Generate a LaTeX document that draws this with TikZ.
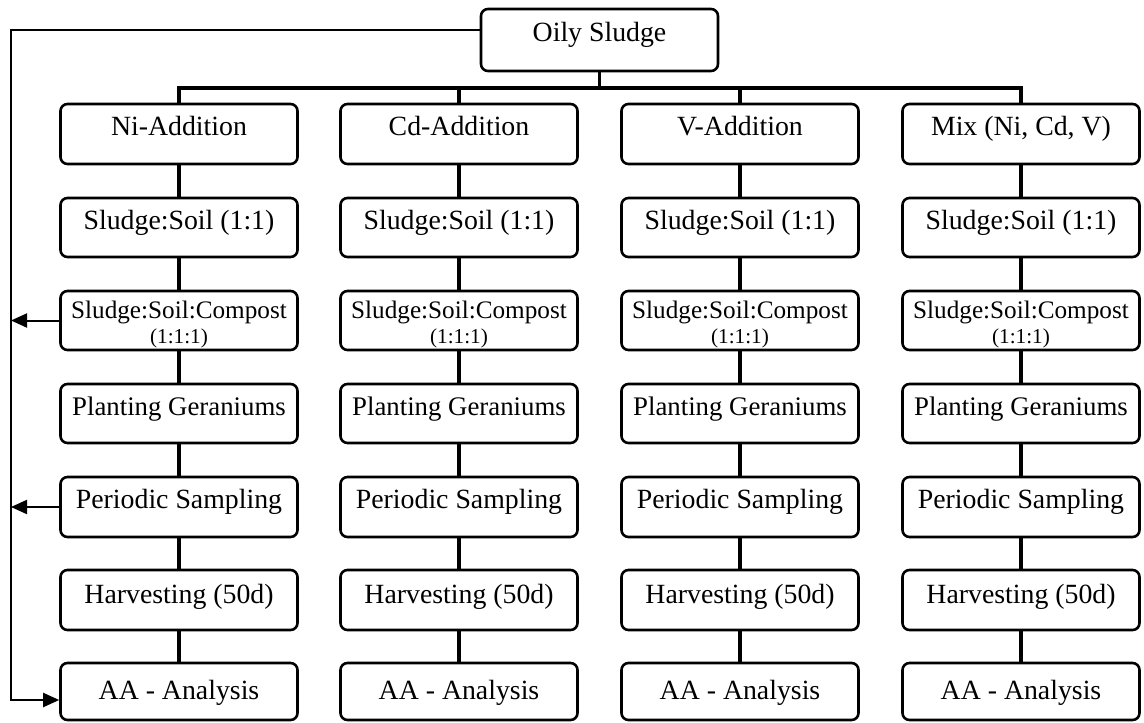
\documentclass[tikz,border=0pt]{standalone}
\usepackage{fontspec}
\setmainfont{Liberation Serif}
\usetikzlibrary{arrows.meta}
\begin{document}
\begin{tikzpicture}[x=0.5pt,y=-0.5pt,
  box/.style={draw, line width=1.3pt, rounded corners=3.5pt, minimum width=118.5pt,
    minimum height=29.5pt, inner sep=0pt, font=\fontsize{13.9}{16}\selectfont,
    text height=9pt, text depth=7.5pt},
  comp/.style={font=\fontsize{12.6}{14}\selectfont, text height=8pt, text depth=10.5pt},
  ratio/.style={inner sep=0pt, font=\fontsize{10.6}{12}\selectfont, anchor=base},
  stem/.style={line width=2.2pt},
  bus/.style={line width=1.8pt, line join=miter},
  fb/.style={line width=1pt},
  arr/.style={-{Triangle[length=8pt,width=7pt]}}]
\useasboundingbox (0,0) rectangle (1144,722);
\node[box, minimum width=118.5pt, minimum height=31pt] (OS) at (599.5,40) {Oily Sludge};
\coordinate (busy) at (0,88);
\coordinate (tl) at (11,30);
\coordinate (bl) at (11,700);
\foreach \i/\x/\t in {1/179/Ni-Addition, 2/459/Cd-Addition, 3/740/V-Addition, 4/1021/{Mix (Ni, Cd, V)}} {
  \node[box, minimum height=30pt] (A\i) at (\x,134) {\t};
  \node[box] (S\i) at (\x,227.5) {Sludge:Soil (1:1)};
  \node[box, comp] (C\i) at (\x,320.5) {Sludge:Soil:Compost};
  \node[ratio] (Cr\i) at ([yshift=-11.3pt]C\i.center) {(1:1:1)};
  \node[box, font=\fontsize{13.4}{16}\selectfont] (P\i) at (\x,413.5) {Planting Geraniums};
  \node[box, minimum height=30pt] (R\i) at (\x,507) {Periodic Sampling};
  \node[box, minimum height=30pt, text height=9pt, text depth=6pt] (H\i) at (\x,600) {Harvesting (50d)};
  \node[box, minimum height=28.5pt, text height=10pt, text depth=2pt] (N\i) at (\x,691.5) {AA - Analysis};
  \draw[stem] (A\i.south) -- (S\i.north);
  \draw[stem] (S\i.south) -- (C\i.north);
  \draw[stem] (C\i.south) -- (P\i.north);
  \draw[stem] (P\i.south) -- (R\i.north);
  \draw[stem] (R\i.south) -- (H\i.north);
  \draw[stem] (H\i.south) -- (N\i.north);
}
\draw[bus] (OS.south) -- (OS.south |- busy);
\draw[bus] (A1.north) -- (A1.north |- busy) -- (A4.north |- busy) -- (A4.north);
\draw[bus] (A2.north) -- (A2.north |- busy);
\draw[bus] (A3.north) -- (A3.north |- busy);
\draw[fb, arr] (OS.west |- tl) -- (tl) -- (bl) -- (bl -| N1.west);
\draw[fb, arr] (C1.west) -- (C1.west -| tl);
\draw[fb, arr] (R1.west) -- (R1.west -| tl);
\end{tikzpicture}
\end{document}
